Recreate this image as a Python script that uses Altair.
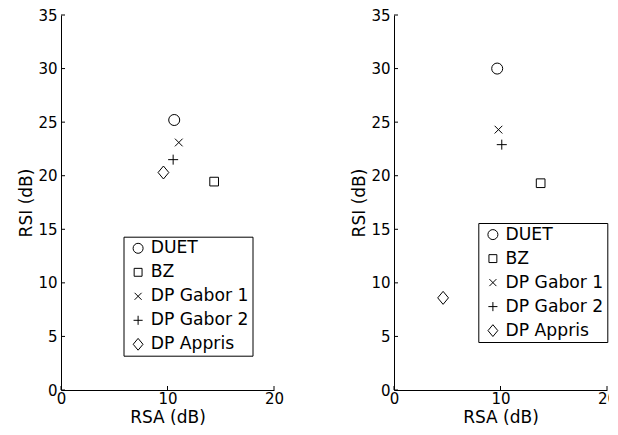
import altair as alt
import pandas as pd

methods = ["DUET", "BZ", "DP Gabor 1", "DP Gabor 2", "DP Appris"]
rsa_left = [10.63, 14.38, 11.06, 10.53, 9.62]
rsi_left = [25.2, 19.45, 23.1, 21.5, 20.3]
rsa_right = [9.69, 13.77, 9.81, 10.12, 4.61]
rsi_right = [30.0, 19.3, 24.3, 22.9, 8.6]
x_ticks = [0, 10, 20]
y_ticks = [0, 5, 10, 15, 20, 25, 30, 35]

shapes = ["circle",
          "M-0.79,-0.79L0.79,-0.79L0.79,0.79L-0.79,0.79Z",
          "M-0.7,-0.7L0.7,0.7M0.7,-0.7L-0.7,0.7",
          "M-0.91,0L0.91,0M0,-0.91L0,0.91",
          "M0,-1.18L0.98,0L0,1.18L-0.98,0Z"]

W, H = 213, 375
FONT = "DejaVu Sans"


def panel(rsa, rsi, lx, ly):
    df = pd.DataFrame({"method": methods, "RSA": rsa, "RSI": rsi})
    xs = alt.Scale(domain=[0, 20], nice=False, zero=False)
    ys = alt.Scale(domain=[0, 35], nice=False, zero=False)
    xax = alt.Axis(values=x_ticks, title="RSA (dB)", labelFlush=False,
                   labelPadding=1, titlePadding=3)
    yax = alt.Axis(values=y_ticks, title="RSI (dB)", labelPadding=4,
                   titlePadding=2)
    leg = alt.Legend(orient="none", legendX=lx, legendY=ly, title=None,
                     labelFont=FONT, labelFontSize=17.2, labelColor="black",
                     symbolStrokeColor="black", symbolStrokeWidth=1,
                     symbolFillColor="transparent", symbolSize=100,
                     symbolOffset=3,
                     strokeColor="black", fillColor="white", padding=3,
                     rowPadding=6, labelOffset=4, cornerRadius=0)
    pts = alt.Chart(df).mark_point(filled=False, color="black", strokeWidth=1,
                                   opacity=1, size=121).encode(
        x=alt.X("RSA:Q", scale=xs, axis=xax),
        y=alt.Y("RSI:Q", scale=ys, axis=yax),
        shape=alt.Shape("method:N", scale=alt.Scale(domain=methods, range=shapes),
                        legend=leg),
    )
    ytk = alt.Chart(pd.DataFrame({"v": y_ticks})).mark_rule(
        color="black", strokeWidth=1).encode(
        y=alt.Y("v:Q", scale=ys, axis=yax), x=alt.value(0), x2=alt.value(4))
    xtk = alt.Chart(pd.DataFrame({"v": x_ticks})).mark_rule(
        color="black", strokeWidth=1).encode(
        x=alt.X("v:Q", scale=xs, axis=xax), y=alt.value(H), y2=alt.value(H - 4))
    return alt.layer(pts, ytk, xtk).properties(width=W, height=H)


left = panel(rsa_left, rsi_left, 62.5, 221.7)
right = panel(rsa_right, rsi_right, 84.3, 208)

chart = alt.hconcat(left, right, spacing=120, bounds="flush").resolve_scale(
    shape="independent"
).resolve_legend(shape="independent").configure(
    padding={"left": 9, "top": 0, "right": -8, "bottom": 0}
).configure_axis(
    domainColor="black", domainWidth=1, ticks=False, grid=False,
    labelFont=FONT, labelFontSize=15, labelColor="black",
    titleFont=FONT, titleFontSize=17, titleColor="black", titleFontWeight="normal",
).configure_view(stroke=None)

chart.save("out.html", embed_options={"renderer": "svg", "actions": False})
